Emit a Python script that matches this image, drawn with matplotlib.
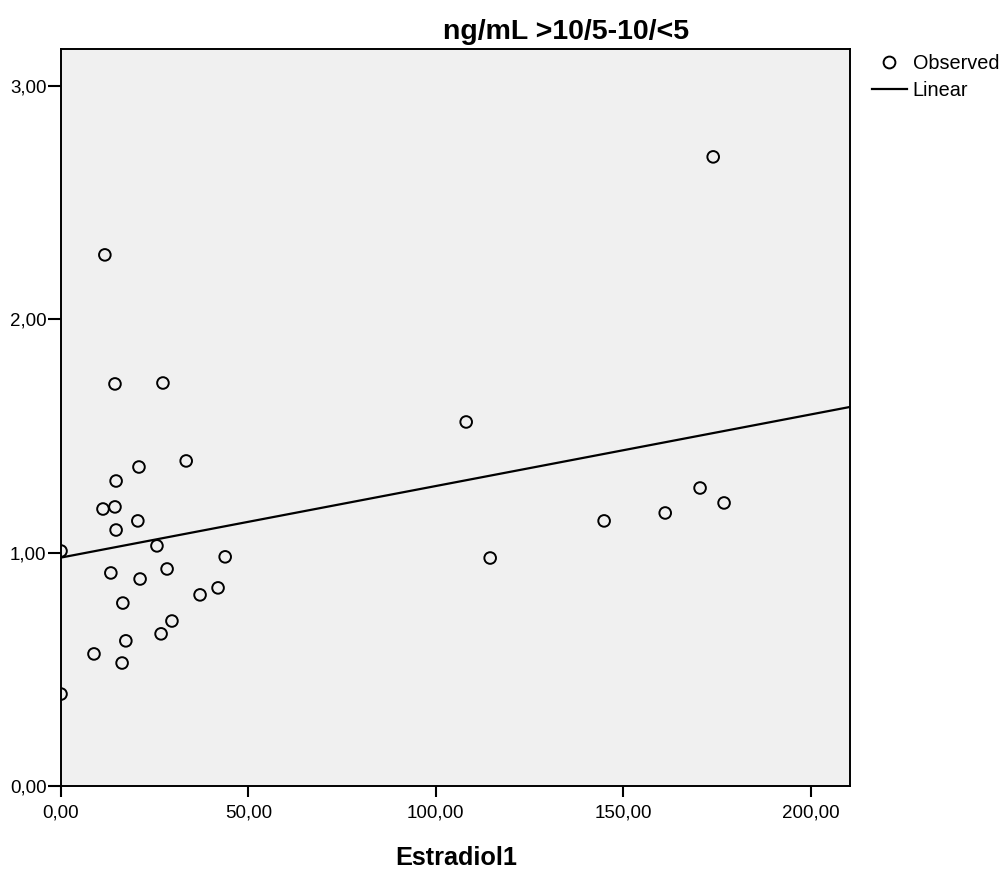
import numpy as np
import matplotlib
matplotlib.use("Agg")
import matplotlib.pyplot as plt
from matplotlib.lines import Line2D
from matplotlib.ticker import FuncFormatter

plt.rcParams['font.family'] = ['Liberation Sans', 'DejaVu Sans']

# Observed data (Estradiol1 vs ratio)
estradiol = [0.0, 0.0, 11.7, 14.4, 27.2, 108.1, 174.0, 20.8, 33.4, 14.7,
             11.2, 14.4, 14.7, 20.5, 25.6, 43.8, 114.5, 13.3, 21.1, 28.3,
             41.9, 37.1, 16.5, 29.6, 26.7, 17.3, 8.8, 16.3, 144.9, 161.2,
             170.5, 176.9]
ratio = [1.007, 0.394, 2.276, 1.723, 1.727, 1.560, 2.696, 1.367, 1.393, 1.307,
         1.187, 1.196, 1.097, 1.136, 1.029, 0.982, 0.977, 0.913, 0.887, 0.930,
         0.849, 0.819, 0.784, 0.707, 0.652, 0.622, 0.566, 0.527, 1.136, 1.170,
         1.277, 1.213]

x_ticks = [0, 50, 100, 150, 200]
y_ticks = [0, 1, 2, 3]
x_limits = [0, 210.5]
y_limits = [0, 3.157]

title = "ng/mL >10/5-10/<5"
x_label = "Estradiol1"

fig = plt.figure(figsize=(10.05, 8.69), dpi=100)
ax = fig.add_axes([61/1005, 1-786/869, (850-61)/1005, (786-49.3)/869])
ax.set_facecolor('#F0F0F0')

x = np.array(estradiol)
y = np.array(ratio)
slope, intercept = np.polyfit(x, y, 1)
xl = np.array(x_limits)
ax.plot(xl, intercept + slope * xl, color='black', lw=1.6, zorder=2, clip_on=True)
ax.scatter(x, y, s=70, facecolors='none', edgecolors='black', linewidths=1.4, zorder=3, clip_on=True)

ax.set_xlim(*x_limits)
ax.set_ylim(*y_limits)
ax.set_xticks(x_ticks)
ax.set_yticks(y_ticks)
fmt = FuncFormatter(lambda v, p: f"{v:.2f}".replace('.', ','))
ax.xaxis.set_major_formatter(fmt)
ax.yaxis.set_major_formatter(fmt)
ax.tick_params(axis='x', direction='out', length=8, width=1.5, pad=5, labelsize=13.5)
ax.tick_params(axis='y', direction='out', length=9.5, width=1.5, pad=1, labelsize=13.5)
for s in ax.spines.values():
    s.set_linewidth(1.4)

fig.text(566.5/1005, 1-39/869, title, ha='center', va='baseline', fontsize=20.5, fontweight='bold')
fig.text(456/1005, 1-865/869, x_label, ha='center', va='baseline', fontsize=18.2, fontweight='bold')

handles = [Line2D([], [], marker='o', ls='none', mfc='none', mec='black', mew=1.4, ms=8.5),
           Line2D([], [], color='black', lw=1.6)]
fig.legend(handles, ['Observed', 'Linear'], loc='upper left',
           bbox_to_anchor=(872/1005, 1-54/869), frameon=False, fontsize=14.3,
           handlelength=1.75, handletextpad=0.3, labelspacing=0.42, borderaxespad=0, borderpad=0)

fig.savefig('out.png', dpi=100)
